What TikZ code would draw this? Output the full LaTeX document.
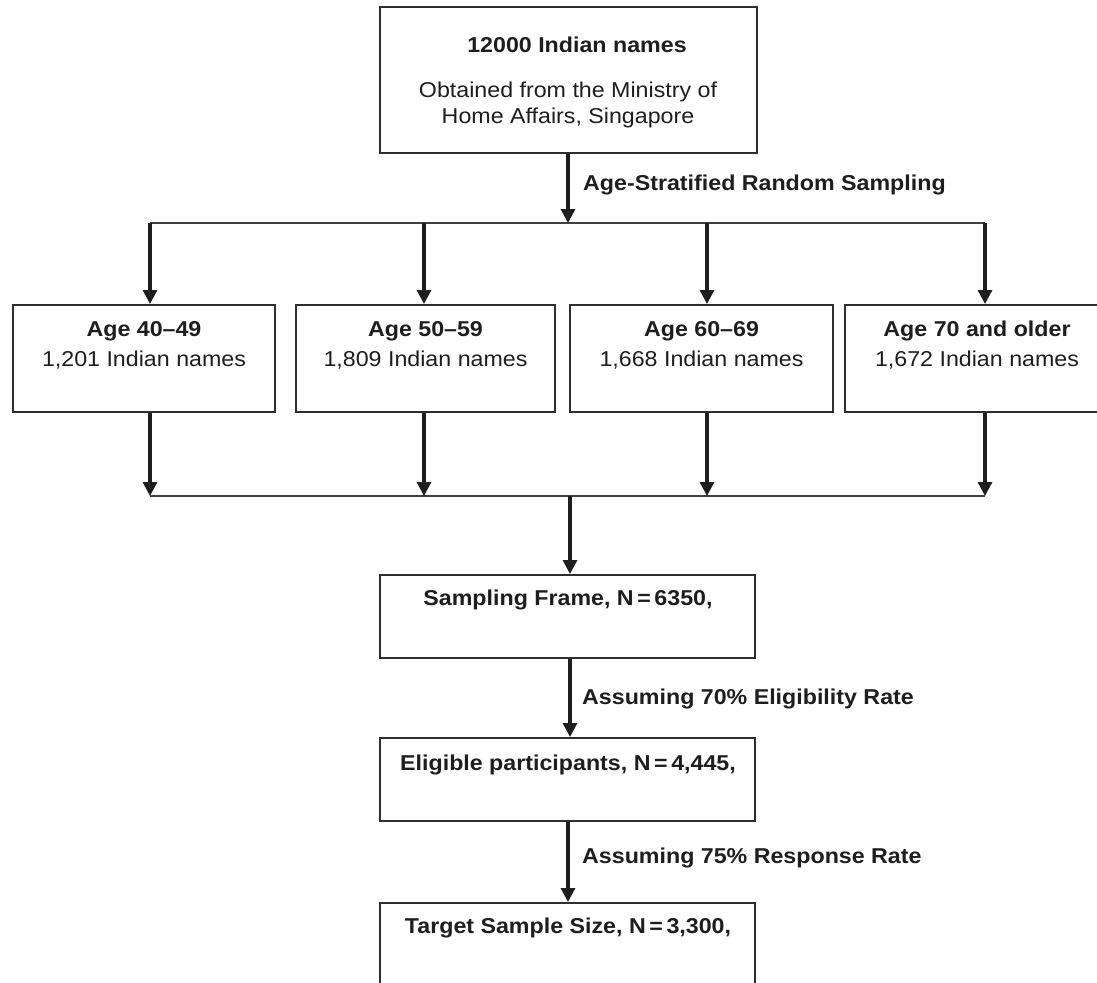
\documentclass[tikz,border=0pt]{standalone}
\usepackage{fontspec}
\setmainfont{Liberation Sans}[FakeStretch=1.08]
\usetikzlibrary{arrows.meta}
\definecolor{ink}{HTML}{1E1E1E}
\definecolor{edge}{HTML}{2E2E2E}
\definecolor{hline}{HTML}{404040}
\tikzset{
  box/.style={draw=edge, line width=2pt, rectangle, inner sep=0pt, fill=white},
  txt/.style={text=ink, inner sep=0pt, font=\fontsize{21.5}{26}\selectfont, align=center},
  btxt/.style={txt, font=\fontsize{21.5}{26}\selectfont\bfseries},
  arr/.style={draw=ink, line width=3.2pt, -{Triangle[width=14pt,length=14pt]}},
  bus/.style={draw=hline, line width=2pt},
}
\begin{document}
\begin{tikzpicture}[x=1pt,y=-1pt]
\useasboundingbox (0,0) rectangle (1097,982);
\clip (0,0) rectangle (1097,982);
% boxes
\node[box, minimum width=377pt, minimum height=146pt] (top) at (568.5,80) {};
\node[box, minimum width=262pt, minimum height=107pt] (a1) at (144,358.5) {};
\node[box, minimum width=259pt, minimum height=107pt] (a2) at (425.5,358.5) {};
\node[box, minimum width=263pt, minimum height=107pt] (a3) at (701.5,358.5) {};
\node[box, minimum width=263pt, minimum height=107pt] (a4) at (976,358.5) {};
\node[box, minimum width=375pt, minimum height=83pt] (sf) at (567.5,616.5) {};
\node[box, minimum width=375pt, minimum height=83pt] (el) at (567.5,779.5) {};
\node[box, minimum width=375pt, minimum height=97pt] (ts) at (567.5,951.5) {};
% texts
\node[btxt] (t1) at (577,45) {12000 Indian names};
\node[txt] (t2) at (568,105) {Obtained from the Ministry of\\Home Affairs, Singapore};
\node[btxt] (a1t) at (144,331) {Age 40–49};
\node[txt] (a1n) at (144,360) {1,201 Indian names};
\node[btxt] (a2t) at (425.5,331) {Age 50–59};
\node[txt] (a2n) at (425.5,360) {1,809 Indian names};
\node[btxt] (a3t) at (701.5,331) {Age 60–69};
\node[txt] (a3n) at (701.5,360) {1,668 Indian names};
\node[btxt] (a4t) at (977,331) {Age 70 and older};
\node[txt] (a4n) at (977,360) {1,672 Indian names};
\node[btxt] (sft) at (568,600) {Sampling Frame, N\,=\,6350,};
\node[btxt] (elt) at (568,765) {Eligible participants, N\,=\,4,445,};
\node[btxt] (tst) at (568,928) {Target Sample Size, N\,=\,3,300,};
% labels
\node[btxt, anchor=west] (l1) at (583,185) {Age-Stratified Random Sampling};
\node[btxt, anchor=west] (l2) at (582,699) {Assuming 70\% Eligibility Rate};
\node[btxt, anchor=west] (l3) at (582,858) {Assuming 75\% Response Rate};
% junction coordinates
\coordinate (s0) at (568,223);
\coordinate (s1) at (150,223);
\coordinate (s2) at (424,223);
\coordinate (s3) at (707,223);
\coordinate (s4) at (985,223);
\coordinate (m1) at (150,496);
\coordinate (m2) at (424,496);
\coordinate (m3) at (707,496);
\coordinate (m4) at (985,496);
\coordinate (m0) at (570,496);
% buses
\draw[bus] (s1) -- (s4);
\draw[bus] (m1) -- (m4);
% arrows
\draw[arr] (top.south -| s0) -- (s0);
\draw[arr] (s1) -- (s1 |- a1.north);
\draw[arr] (s2) -- (s2 |- a2.north);
\draw[arr] (s3) -- (s3 |- a3.north);
\draw[arr] (s4) -- (s4 |- a4.north);
\draw[arr] (m1 |- a1.south) -- (m1);
\draw[arr] (m2 |- a2.south) -- (m2);
\draw[arr] (m3 |- a3.south) -- (m3);
\draw[arr] (m4 |- a4.south) -- (m4);
\draw[arr] (m0) -- (m0 |- sf.north);
\draw[arr] (sf.south -| m0) -- (el.north -| m0);
\draw[arr] (el.south -| 568,0) -- (ts.north -| 568,0);
\end{tikzpicture}
\end{document}
